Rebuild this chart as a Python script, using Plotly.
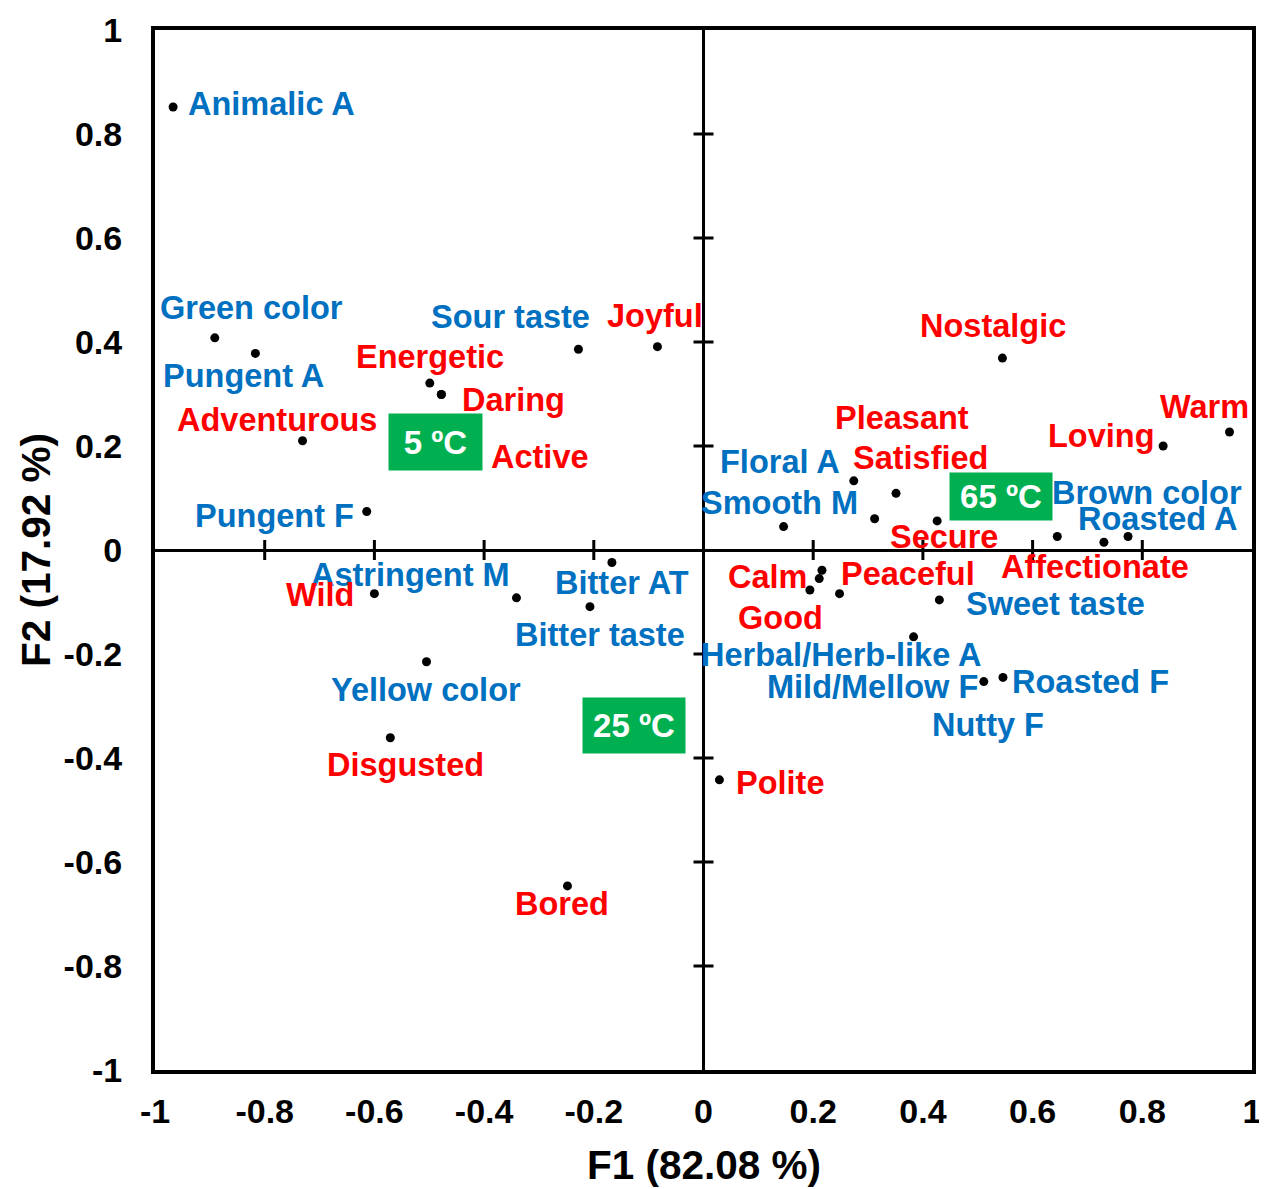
import plotly.graph_objects as go

# sensory attributes (blue) on F1/F2
attr_names = ["Animalic A", "Green color", "Pungent A", "Sour taste", "Pungent F",
              "Astringent M", "Bitter AT", "Bitter taste", "Yellow color",
              "Floral A", "Smooth M", "Brown color", "Roasted A", "Sweet taste",
              "Herbal/Herb-like A", "Mild/Mellow F", "Roasted F", "Nutty F"]
attr_f1 = [-0.967, -0.891, -0.817, -0.228, -0.614,
           -0.341, -0.167, -0.207, -0.505,
           0.274, 0.146, 0.774, 0.730, 0.430,
           0.383, 0.511, 0.546, 0.248]
attr_f2 = [0.852, 0.408, 0.378, 0.386, 0.074,
           -0.092, -0.024, -0.109, -0.215,
           0.133, 0.045, 0.026, 0.015, -0.096,
           -0.167, -0.253, -0.245, -0.084]

# emotions (red)
emo_names = ["Joyful", "Energetic", "Daring", "Adventurous", "Active", "Wild",
             "Disgusted", "Bored", "Nostalgic", "Pleasant", "Satisfied", "Warm",
             "Loving", "Secure", "Affectionate", "Calm", "Peaceful", "Good", "Polite"]
emo_f1 = [-0.084, -0.499, -0.478, -0.731, -0.478, -0.600,
          -0.571, -0.248, 0.545, 0.351, 0.312, 0.959,
          0.838, 0.426, 0.645, 0.211, 0.216, 0.194, 0.029]
emo_f2 = [0.391, 0.321, 0.299, 0.210, 0.299, -0.084,
          -0.361, -0.646, 0.369, 0.109, 0.060, 0.227,
          0.200, 0.056, 0.026, -0.055, -0.039, -0.077, -0.442]

# serving temperatures
temp_names = ["5 ºC", "25 ºC", "65 ºC"]
temp_f1 = [-0.488, -0.126, 0.542]
temp_f2 = [0.207, -0.3375, 0.103]

tick_vals = [-1, -0.8, -0.6, -0.4, -0.2, 0, 0.2, 0.4, 0.6, 0.8, 1]
tick_text = ["-1", "-0.8", "-0.6", "-0.4", "-0.2", "0", "0.2", "0.4", "0.6", "0.8", "1"]

# label offsets from the dot, in px (right, down)
label_off = {
    "Animalic A": (98, -3), "Green color": (37, -30), "Pungent A": (-12, 23),
    "Sour taste": (-68, -32), "Pungent F": (-92, 4), "Astringent M": (-106, -23),
    "Bitter AT": (10, 21), "Bitter taste": (10, 28), "Yellow color": (-1, 28),
    "Floral A": (-74, -19), "Smooth M": (-4, -24), "Brown color": (19, -43),
    "Roasted A": (54, -23), "Sweet taste": (116, 4), "Herbal/Herb-like A": (-72, 18),
    "Mild/Mellow F": (-111, 5), "Roasted F": (88, 5), "Nutty F": (148, 131),
    "Joyful": (-2, -31), "Energetic": (0, -26), "Daring": (72, 5),
    "Adventurous": (-26, -21), "Active": (99, 62), "Wild": (-54, 1),
    "Disgusted": (15, 27), "Bored": (-5, 18), "Nostalgic": (-9, -32),
    "Pleasant": (6, -75), "Satisfied": (46, -61), "Warm": (-25, -25),
    "Loving": (-62, -10), "Secure": (7, 16), "Affectionate": (38, 31),
    "Calm": (-52, -2), "Peaceful": (86, 4), "Good": (-29, 28), "Polite": (61, 3),
}

BLUE = "#0070C0"
RED = "#FF0000"
FONT = "Liberation Sans, Arial, sans-serif"

fig = go.Figure()
fig.add_trace(go.Scatter(x=attr_f1, y=attr_f2, mode="markers",
                         marker=dict(color="black", size=9), hoverinfo="skip"))
fig.add_trace(go.Scatter(x=emo_f1, y=emo_f2, mode="markers",
                         marker=dict(color="black", size=9), hoverinfo="skip"))

annots = []
for names, xs, ys, col in [(attr_names, attr_f1, attr_f2, BLUE),
                           (emo_names, emo_f1, emo_f2, RED)]:
    for n, x, y in zip(names, xs, ys):
        dx, dy = label_off[n]
        annots.append(dict(x=x, y=y, text=n, showarrow=False, xshift=dx, yshift=-dy,
                           xanchor="center", yanchor="middle",
                           font=dict(family=FONT, size=32.5, color=col, weight="bold")))

box_size = {"5 ºC": (93, 56), "25 ºC": (102, 55), "65 ºC": (102, 47)}
for n, x, y in zip(temp_names, temp_f1, temp_f2):
    w, h = box_size[n]
    annots.append(dict(x=x, y=y, text=n, showarrow=False, bgcolor="#00B050",
                       width=w, height=h, borderpad=0, xanchor="center", yanchor="middle",
                       font=dict(family=FONT, size=33, color="white", weight="bold")))

# axis titles
annots.append(dict(x=0.5, y=0, xref="paper", yref="paper", text="F1 (82.08 %)",
                   showarrow=False, yshift=-95, xanchor="center", yanchor="middle",
                   font=dict(family=FONT, size=40.5, color="black", weight="bold")))
annots.append(dict(x=0, y=0.5, xref="paper", yref="paper", text="F2 (17.92 %)",
                   showarrow=False, xshift=-119, textangle=-90, xanchor="center",
                   yanchor="middle",
                   font=dict(family=FONT, size=40.5, color="black", weight="bold")))

# cross ticks on the zero lines
shapes = []
for t in tick_vals[1:-1]:
    if t == 0:
        continue
    shapes.append(dict(type="line", xref="x", yref="y", x0=t, x1=t,
                       ysizemode="pixel", yanchor=0, y0=-10, y1=10,
                       line=dict(color="black", width=3)))
    shapes.append(dict(type="line", xref="x", yref="y", y0=t, y1=t,
                       xsizemode="pixel", xanchor=0, x0=-10, x1=10,
                       line=dict(color="black", width=3)))

axis_common = dict(range=[-1, 1], tickvals=tick_vals, ticktext=tick_text,
                   showgrid=False, zeroline=True, zerolinecolor="black",
                   zerolinewidth=3, showline=True, mirror=True, linecolor="black",
                   linewidth=4, ticks="", automargin=False,
                   tickfont=dict(family=FONT, size=34, color="black", weight="bold"))

# page body has an 8px margin, so the figure is a little smaller than the window
fig.update_layout(
    width=1259, height=1181,
    margin=dict(l=147, r=15, t=22, b=119),
    paper_bgcolor="white", plot_bgcolor="white",
    showlegend=False,
    xaxis=dict(**axis_common, ticklabelstandoff=8),
    yaxis=dict(**axis_common, ticklabelstandoff=22),
    annotations=annots,
    shapes=shapes,
)

fig.write_html("out.html")
